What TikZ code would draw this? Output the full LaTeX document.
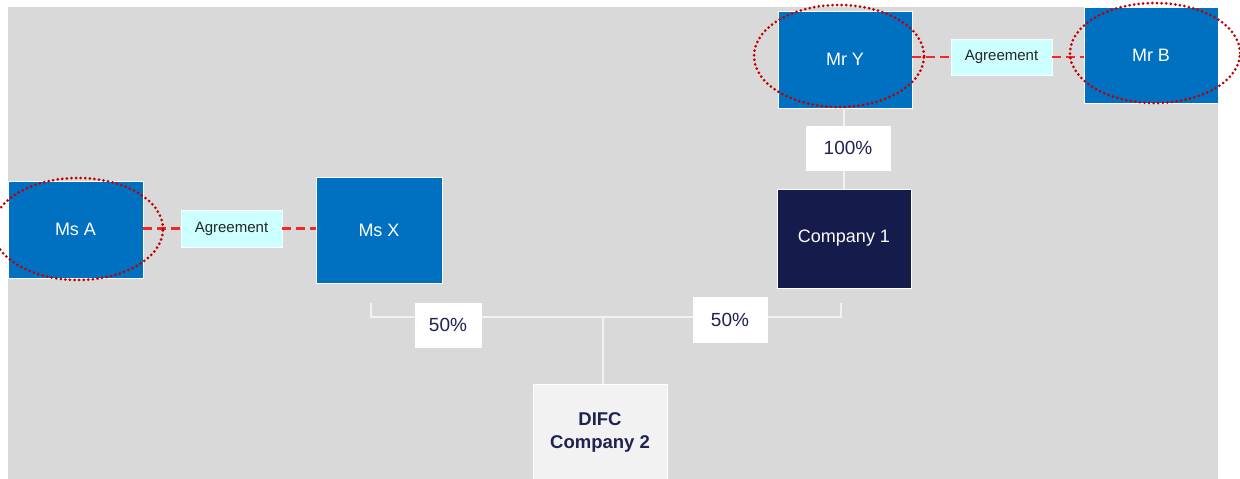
\documentclass[tikz,border=0pt]{standalone}
\usepackage{fontspec}
\setmainfont{Liberation Sans}
\usetikzlibrary{shapes.geometric}
\definecolor{bg}{HTML}{D9D9D9}
\definecolor{pblue}{HTML}{0070C0}
\definecolor{navy}{HTML}{151B4B}
\definecolor{navytext}{HTML}{1F2350}
\definecolor{agfill}{HTML}{CCFFFF}
\definecolor{dashred}{HTML}{F0282A}
\definecolor{ringred}{HTML}{C00000}
\definecolor{conn}{HTML}{F2F2F2}
\definecolor{difcfill}{HTML}{F2F2F2}
\tikzset{
  person/.style={rectangle, fill=pblue, draw=white, line width=0.8pt, text=white, font=\fontsize{18}{21}\selectfont, inner sep=0pt},
  agbox/.style={rectangle, fill=agfill, draw=white, line width=0.6pt, text=black!85, font=\fontsize{15}{17}\selectfont, minimum width=101pt, minimum height=37pt, inner sep=0pt},
  pctbox/.style={rectangle, fill=white, draw=white, text=navytext, font=\fontsize{19}{22}\selectfont, inner sep=0pt},
  ring/.style={ellipse, draw=ringred, line width=3pt, dash pattern=on 0pt off 4.6pt, line cap=round, inner sep=0pt},
  agline/.style={draw=dashred, line width=2.4pt, dash pattern=on 9pt off 5pt},
  ownline/.style={draw=conn, line width=1.3pt}
}
\begin{document}
\begin{tikzpicture}[x=1pt,y=-1pt]
\useasboundingbox (0,0) rectangle (1240,479);
\fill[white] (0,0) rectangle (1240,479);
\fill[bg] (8,7) rectangle (1218,479);

% connectors under boxes
\coordinate (bl) at (371,303);
\coordinate (br) at (841,303);
\coordinate (blc) at (371,317);
\coordinate (brc) at (841,317);
\coordinate (mid) at (603,317);

% nodes
\node[person, minimum width=135pt, minimum height=97pt] (msA) at (75.5,229.5) {Ms A};
\node[agbox] (ag1) at (231.5,228.5) {Agreement};
\node[person, minimum width=126pt, minimum height=106pt] (msX) at (379,230) {Ms X};
\node[person, minimum width=134pt, minimum height=97pt] (mrY) at (845,59.5) {Mr Y};
\node[agbox, minimum height=36pt] (ag2) at (1001.5,57) {Agreement};
\node[person, minimum width=134pt, minimum height=96pt] (mrB) at (1151,55) {Mr B};
\node[person, fill=navy, minimum width=134pt, minimum height=99pt] (co1) at (844,238.5) {Company 1};
\node[rectangle, fill=difcfill, draw=white, line width=0.8pt, text=navytext, font=\bfseries\fontsize{18.5}{23}\selectfont, align=center, minimum width=134pt, minimum height=96pt, inner sep=0pt] (difc) at (600,432.5) {DIFC\\Company 2};

% ownership lines
\draw[ownline] (mrY.south -| co1.north) -- (co1.north);
\draw[ownline] (bl) -- (blc) -- (brc) -- (br);
\draw[ownline] (mid) -- (mid |- difc.north);

% percent boxes
\node[pctbox, minimum width=84pt, minimum height=44pt] (p100) at (848,148) {100\%};
\node[pctbox, minimum width=66pt, minimum height=44pt] (p50l) at (448,325) {50\%};
\node[pctbox, minimum width=74pt, minimum height=45pt] (p50r) at (730,319.5) {50\%};

% agreement lines
\draw[agline] (msA.east |- ag1.west) -- (ag1.west);
\draw[agline] (ag1.east) -- (msX.west |- ag1.east);
\draw[agline] (mrY.east |- ag2.west) -- (ag2.west);
\draw[agline] (ag2.east) -- (mrB.west |- ag2.east);

% rings
\node[ring, minimum width=170pt, minimum height=102pt] (ringA) at (78,229) {};
\node[ring, minimum width=170pt, minimum height=102pt] (ringY) at (839,56) {};
\node[ring, minimum width=170pt, minimum height=100pt] (ringB) at (1155,53) {};
\end{tikzpicture}
\end{document}
